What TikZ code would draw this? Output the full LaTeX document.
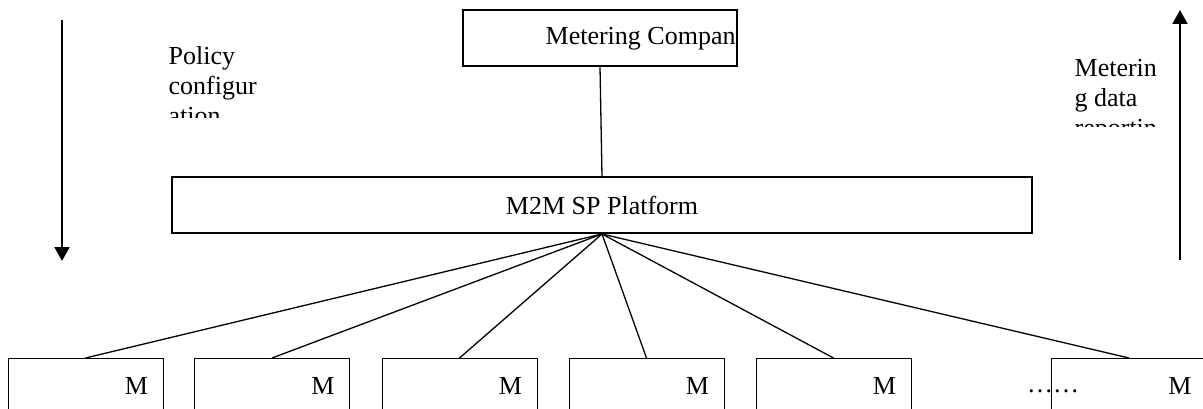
\documentclass[tikz,border=0pt]{standalone}
\usepackage{fontspec}
\setmainfont{Liberation Serif}
\usetikzlibrary{arrows.meta,positioning}

\tikzset{
  box/.style={draw,line width=1.5pt,inner sep=0pt},
  mbox/.style={draw,line width=1pt,anchor=north,minimum height=55pt,text width=125pt,
    inner xsep=15pt,inner ysep=0pt,align=right},
  sidetxt/.style={anchor=base west,inner sep=0pt},
  flow/.style={line width=2pt,-{Triangle[length=14pt,width=15pt]}}
}

\begin{document}
\begin{tikzpicture}[x=1pt,y=-1pt,font=\fontsize{26}{30}\selectfont,line width=1.3pt]
  \useasboundingbox (0,0) rectangle (1203,409);
  \clip (0,0) rectangle (1203,409);

  % company and platform
  \node[box,minimum width=274pt,minimum height=56pt] (company) at (600,38) {};
  \begin{scope}
    \clip (company.south west) rectangle (company.north east);
    \node[sidetxt] (companytxt) at (545,45) {Metering Company};
  \end{scope}
  \node[box,line width=2pt,minimum width=860pt,minimum height=56pt] (platform) at (602,205) {M2M SP Platform};
  \draw (company.south) -- (platform.north);

  % meters
  \foreach \x/\n in {85.5/1,272/2,459.5/3,646.5/4,833.5/5,1129/6}
    \node[mbox] (m\n) at (\x,358) {M};
  \node[sidetxt,anchor=base] (dots) at (1053,392) {……};
  \foreach \n in {1,...,6}
    \draw (platform.south) -- (m\n.north);

  % direction arrows
  \coordinate (cfgtop) at (62,20);
  \coordinate (cfgbot) at (62,261);
  \draw[flow] (cfgtop) -- (cfgbot);
  \coordinate (reptop) at (1180,10);
  \coordinate (repbot) at (1180,260);
  \draw[flow] (repbot) -- (reptop);

  \begin{scope}
    \clip (160,30) rectangle (300,118);
    \foreach \t [count=\i] in {Policy,configur,ation}
      \node[sidetxt] (cfg\i) at (168,35+30*\i) {\t};
  \end{scope}
  \begin{scope}
    \clip (1065,40) rectangle (1170,127);
    \foreach \t [count=\i] in {Meterin,g data,reportin}
      \node[sidetxt] (rep\i) at (1074,47+30*\i) {\t};
  \end{scope}
\end{tikzpicture}
\end{document}
